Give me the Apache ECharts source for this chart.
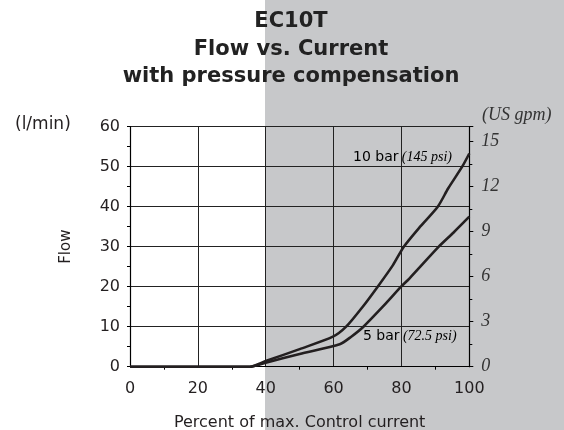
<!DOCTYPE html>
<html>
<head>
<meta charset="utf-8">
<script src="https://cdn.jsdelivr.net/npm/echarts@6/dist/echarts.min.js"></script>
<style>
html, body { margin: 0; padding: 0; background: #fff; }
#chart { width: 564px; height: 430px; }
</style>
</head>
<body>
<div id="chart"></div>
<script>
// 读图得到的数据 (percent of max. control current, flow l/min)
var bar10_x = [0, 35.3, 40, 50, 59.8, 63.7, 68.6, 73, 77.5, 80.7, 85.5, 90.7, 93.8, 97.9, 100];
var bar10_y = [0, 0, 1.4, 4.4, 7.5, 10, 15, 20, 25.4, 30, 35, 40, 44.6, 50, 53.3];
var bar5_x = [0, 35.3, 40, 50, 61.8, 65.2, 68.8, 74.5, 79.9, 82.4, 91, 95.3, 100];
var bar5_y = [0, 0, 1.0, 3.2, 5.6, 7.5, 10, 15, 20, 22.1, 30, 33.5, 37.5];
var titleLines = ['EC10T', 'Flow vs. Current', 'with pressure compensation'];
var GPM_AXIS_MAX = 16; // right axis top

function pairs(xs, ys) {
	var out = [];
	for (var i = 0; i < xs.length; i++) {
		out.push([xs[i], ys[i]]);
	}
	return out;
}

var myChart = echarts.init(document.getElementById('chart'));
var ink = '#231f20';
var sans = 'DejaVu Sans';
var serif = 'Liberation Serif';

var option = {
	backgroundColor : '#ffffff',
	animation : false,
	graphic : [ {
		type : 'rect',
		z : -100,
		silent : true,
		shape : { x : 265, y : 0, width : 299, height : 430 },
		style : { fill : '#c7c8ca' }
	}, {
		type : 'text',
		x : 291, y : 8,
		style : {
			text : titleLines.join('\n'),
			textAlign : 'center',
			font : 'bold 21px "DejaVu Sans"',
			lineHeight : 27.5,
			fill : '#222'
		}
	}, {
		type : 'text',
		x : 15, y : 125,
		style : { text : '(l/min)', font : '17px "DejaVu Sans"', fill : ink, textVerticalAlign : 'middle' }
	}, {
		type : 'text',
		x : 482, y : 115,
		style : { text : '(US gpm)', font : 'italic 18px "Liberation Serif"', fill : '#333', textVerticalAlign : 'middle' }
	}, {
		type : 'text',
		x : 353, y : 157,
		style : {
			text : '{a|10 bar} {b|(145 psi)}',
			textVerticalAlign : 'middle',
			rich : {
				a : { fontFamily : sans, fontSize : 14, color : ink },
				b : { fontFamily : serif, fontStyle : 'italic', fontSize : 14, color : '#444' }
			}
		}
	}, {
		type : 'text',
		x : 363, y : 336,
		style : {
			text : '{a|5 bar} {b|(72.5 psi)}',
			textVerticalAlign : 'middle',
			rich : {
				a : { fontFamily : sans, fontSize : 14, color : ink },
				b : { fontFamily : serif, fontStyle : 'italic', fontSize : 14, color : '#444' }
			}
		}
	} ],
	grid : {
		left : 130,
		right : 94.7,
		top : 126.7,
		bottom : 63.3,
		outerBoundsMode : 'none'
	},
	xAxis : [ {
		type : 'value',
		min : 0,
		max : 100,
		interval : 20,
		name : 'Percent of max. Control current',
		nameLocation : 'middle',
		nameGap : 48,
		nameTextStyle : { fontFamily : sans, fontSize : 16, color : ink },
		axisLine : { lineStyle : { color : '#000', width : 1.2 } },
		axisTick : { show : false },
		minorTick : { show : true, splitNumber : 2, length : 3, lineStyle : { color : '#000' } },
		axisLabel : { margin : 14, fontFamily : sans, fontSize : 16, color : ink },
		splitLine : { show : true, lineStyle : { color : '#222', width : 1 } }
	} ],
	yAxis : [ {
		type : 'value',
		min : 0,
		max : 60,
		interval : 10,
		name : 'Flow',
		nameLocation : 'middle',
		nameGap : 56,
		nameTextStyle : { fontFamily : sans, fontSize : 15, color : ink },
		axisLine : { show : true, lineStyle : { color : '#000', width : 1.2 } },
		axisTick : { show : true, length : 3, lineStyle : { color : '#000' } },
		minorTick : { show : true, splitNumber : 2, length : 3, lineStyle : { color : '#000' } },
		axisLabel : { margin : 10, fontFamily : sans, fontSize : 16, color : ink },
		splitLine : { show : true, lineStyle : { color : '#222', width : 1 } }
	}, {
		type : 'value',
		position : 'right',
		min : 0,
		max : GPM_AXIS_MAX,
		interval : 3,
		axisLine : { show : true, lineStyle : { color : '#000', width : 1.2 } },
		axisTick : { show : true, length : 4, lineStyle : { color : '#000' } },
		minorTick : { show : true, splitNumber : 2, length : 3, lineStyle : { color : '#000' } },
		axisLabel : {
			margin : 12,
			showMaxLabel : false,
			fontFamily : serif,
			fontStyle : 'italic',
			fontSize : 18,
			color : '#333'
		},
		splitLine : { show : false }
	} ],
	series : [ {
		name : '10 bar',
		type : 'line',
		smooth : 0.25,
		symbol : 'none',
		lineStyle : { color : ink, width : 2.6, join : 'round' },
		data : pairs(bar10_x, bar10_y)
	}, {
		name : '5 bar',
		type : 'line',
		smooth : 0.25,
		symbol : 'none',
		lineStyle : { color : ink, width : 2.6, join : 'round' },
		data : pairs(bar5_x, bar5_y)
	} ]
};
myChart.setOption(option);
</script>
</body>
</html>
